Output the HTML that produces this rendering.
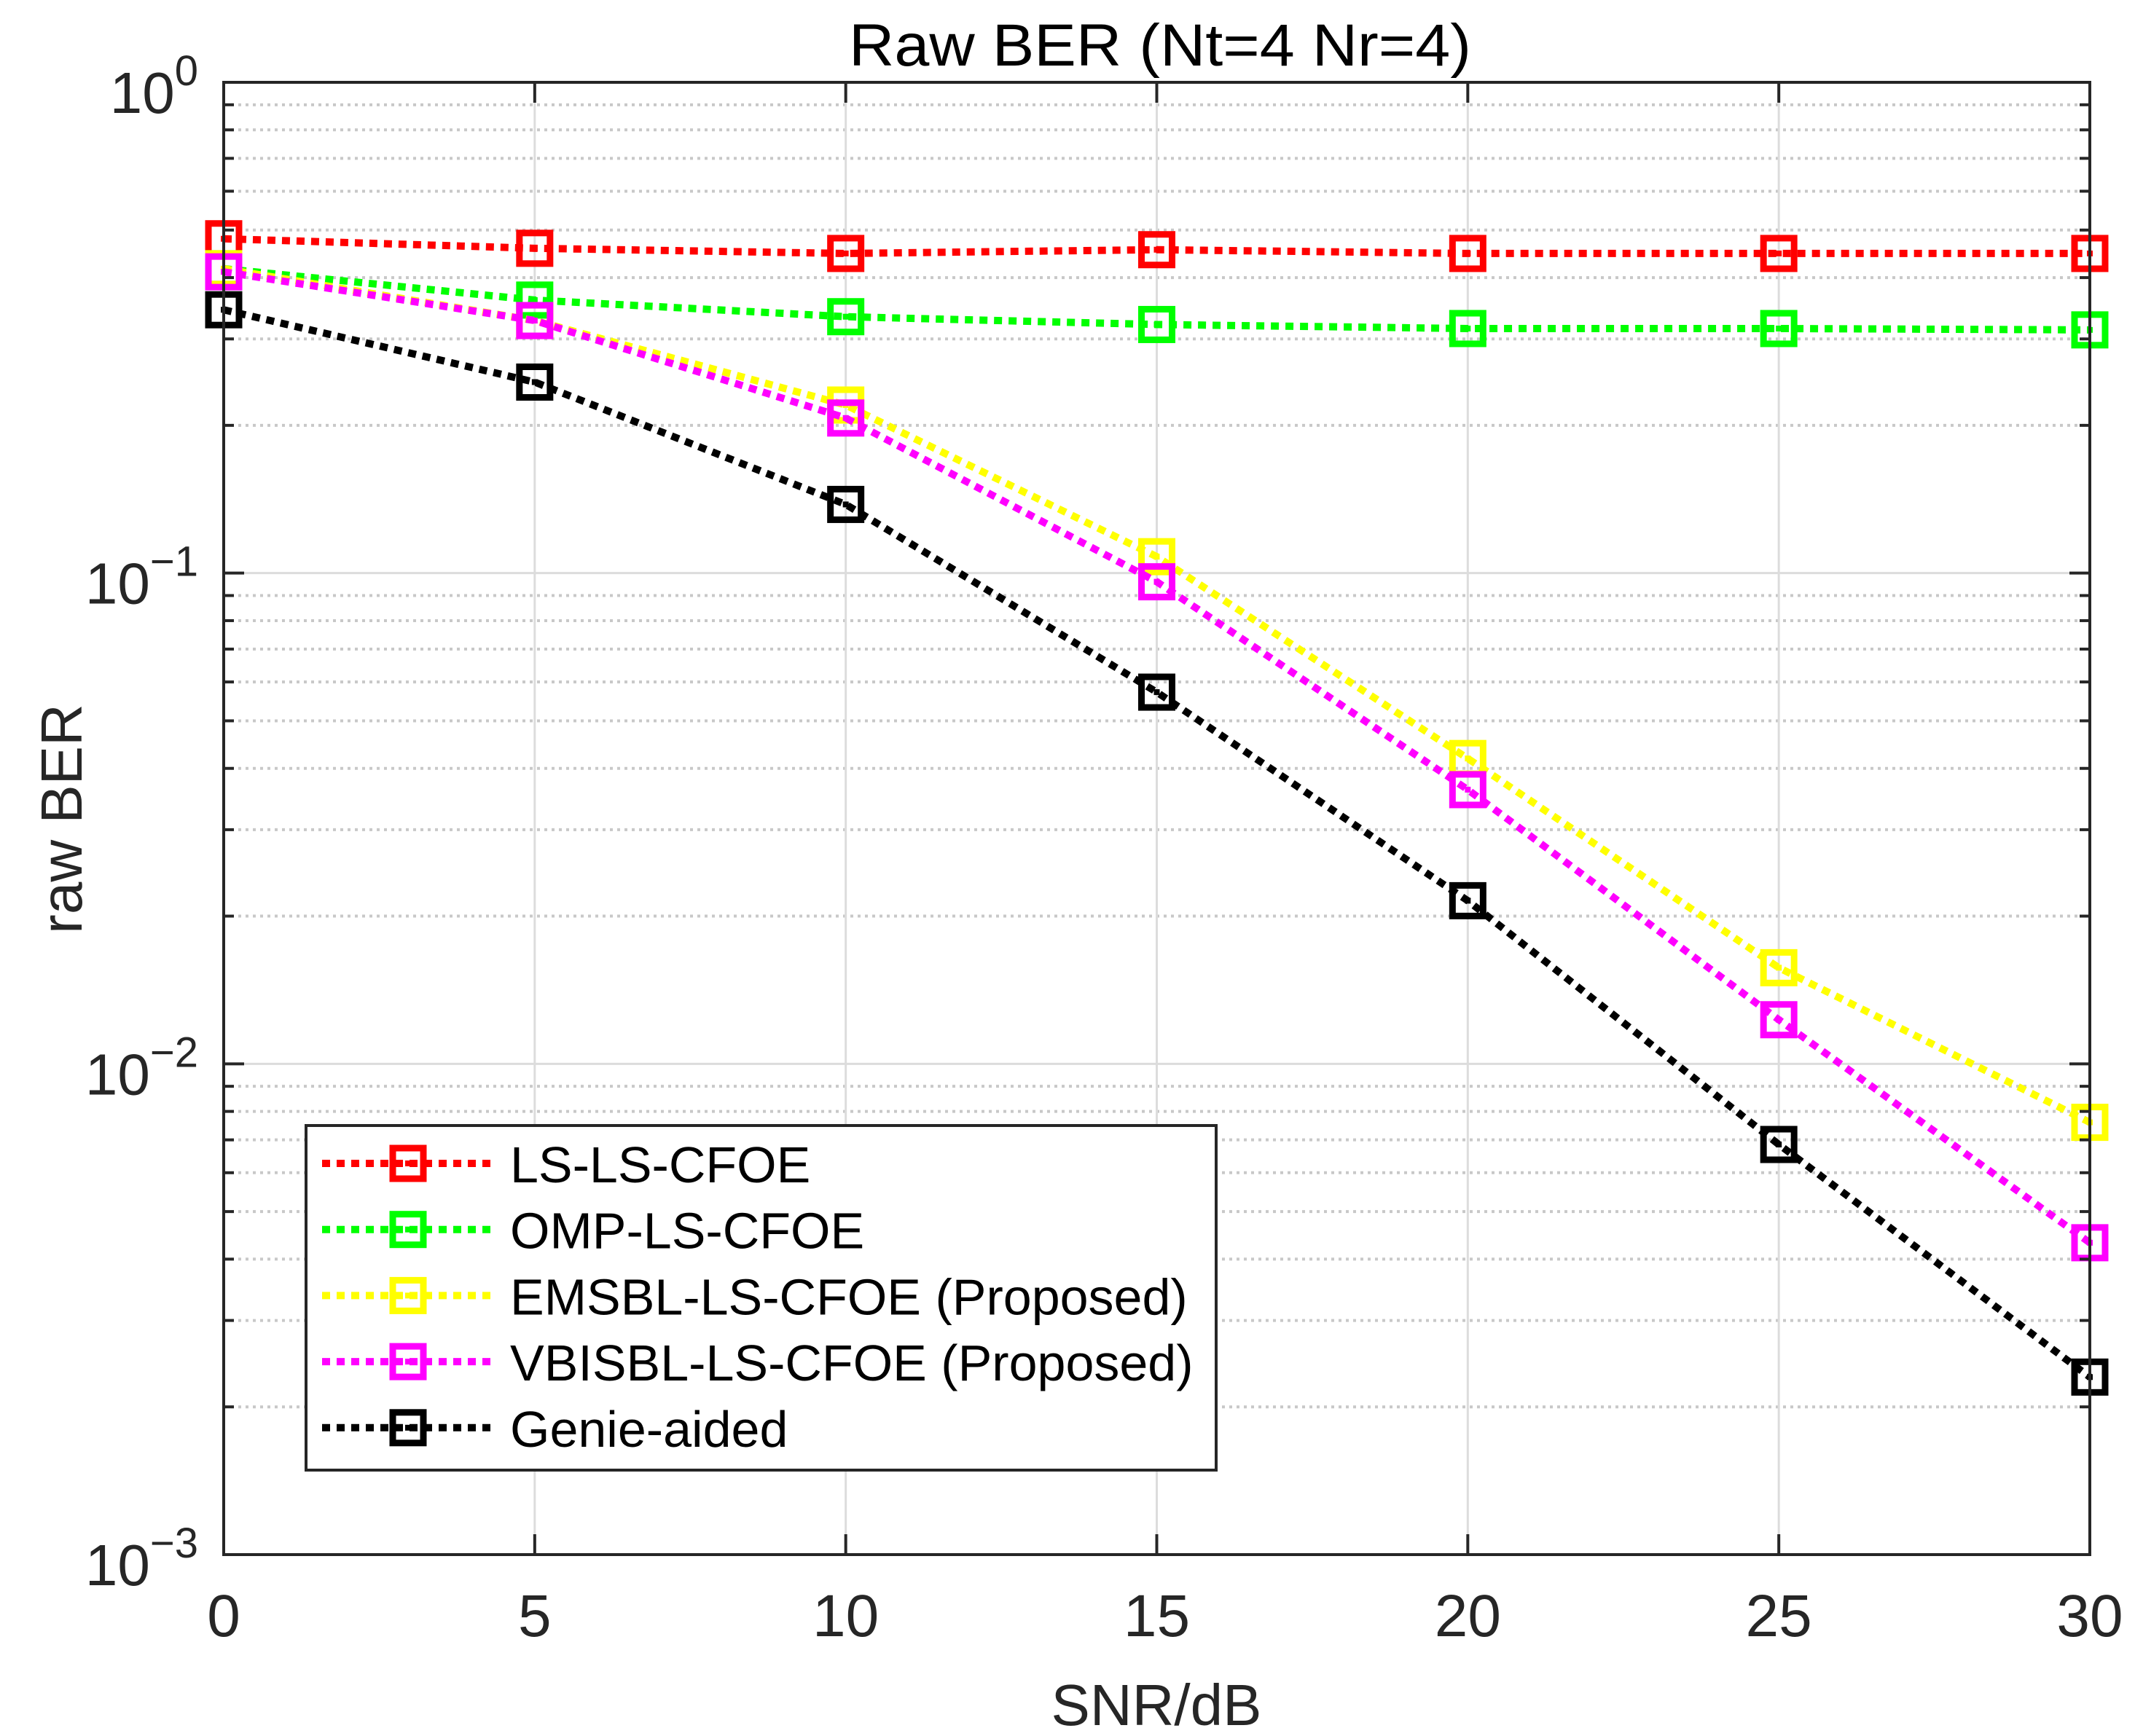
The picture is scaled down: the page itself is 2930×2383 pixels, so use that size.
<!DOCTYPE html>
<html><head><meta charset="utf-8"><style>
html,body{margin:0;padding:0;background:#fff;}
svg{display:block;font-family:"Liberation Sans",Arial,sans-serif;}
</style></head><body>
<svg id="chart" width="2930" height="2383" viewBox="0 0 2930 2383" xmlns="http://www.w3.org/2000/svg">
<rect x="0" y="0" width="2930" height="2383" fill="#fff"/>
<g id="grid"></g>
<g id="series"></g>
<g id="axes"></g>
<text x="1592" y="90" font-size="82" text-anchor="middle" fill="#000" textLength="854" lengthAdjust="spacingAndGlyphs">Raw BER (Nt=4 Nr=4)</text>
<text x="1587" y="2368" font-size="80" text-anchor="middle" fill="#262626">SNR/dB</text>
<text transform="translate(84,1124) rotate(-90)" x="0" y="28" font-size="80" text-anchor="middle" fill="#262626">raw BER</text>
<g id="legend"></g>
</svg>
<script>
const snr = [0, 5, 10, 15, 20, 25, 30];
const lsLs = [0.48, 0.459, 0.448, 0.456, 0.448, 0.448, 0.448];
const ompLs = [0.417, 0.36, 0.333, 0.321, 0.315, 0.315, 0.313];
const emsbl = [0.417, 0.327, 0.22, 0.108, 0.0419, 0.0157, 0.0076];
const vbisbl = [0.411, 0.327, 0.207, 0.096, 0.0362, 0.0123, 0.00432];
const genie = [0.344, 0.245, 0.138, 0.0572, 0.0215, 0.00685, 0.0023];
const seriesNames = ["LS-LS-CFOE", "OMP-LS-CFOE", "EMSBL-LS-CFOE (Proposed)", "VBISBL-LS-CFOE (Proposed)", "Genie-aided"];
const xTicks = [0, 5, 10, 15, 20, 25, 30];
const yExps = [0, -1, -2, -3];

const NS = "http://www.w3.org/2000/svg";
const L = 307, R = 2868, T = 113, B = 2134;
const xMin = 0, xMax = 30, eMax = 0, eMin = -3;
function xs(v){ return L + (v - xMin) / (xMax - xMin) * (R - L); }
function ys(v){ return T + (eMax - Math.log10(v)) / (eMax - eMin) * (B - T); }
function mk(tag, attrs, parent){ const e = document.createElementNS(NS, tag); for (const k in attrs) e.setAttribute(k, attrs[k]); parent.appendChild(e); return e; }

const grid = document.getElementById('grid');
const axes = document.getElementById('axes');
for (let e = eMin; e < eMax; e++) {
  for (let m = 2; m <= 9; m++) {
    const y = ys(m * Math.pow(10, e));
    const g = mk('line', {x1: L, x2: R, y1: y, y2: y, stroke: '#c8c8c8', 'stroke-width': 4, 'stroke-dasharray': '4 6'}, grid);
    
    
    const t1 = mk('line', {x1: L, x2: L + 14, y1: y, y2: y, stroke: '#262626', 'stroke-width': 4}, axes);
    
    
    const t2 = mk('line', {x1: R, x2: R - 14, y1: y, y2: y, stroke: '#262626', 'stroke-width': 4}, axes);
    
    
  }
}
yExps.forEach(e => {
  const y = ys(Math.pow(10, e));
  if (e !== eMax && e !== eMin) {
    const g = mk('line', {x1: L, x2: R, y1: y, y2: y, stroke: '#dcdcdc', 'stroke-width': 3}, grid);
    
    
  }
  const t1 = mk('line', {x1: L, x2: L + 28, y1: y, y2: y, stroke: '#262626', 'stroke-width': 4}, axes);
  
  
  const t2 = mk('line', {x1: R, x2: R - 28, y1: y, y2: y, stroke: '#262626', 'stroke-width': 4}, axes);
  
  
  const tx = mk('text', {x: 272, y: y + 42, 'font-size': 80, 'text-anchor': 'end', fill: '#262626'}, axes);
  
  
  const ts = mk('tspan', {}, tx); ts.textContent = '10';
  const sup = mk('tspan', {dy: -38, 'font-size': 58}, tx); sup.textContent = e === 0 ? '0' : '\u2212' + (-e);
});
xTicks.forEach(v => {
  const x = xs(v);
  if (v !== xMin && v !== xMax) {
    const g = mk('line', {x1: x, x2: x, y1: T, y2: B, stroke: '#dcdcdc', 'stroke-width': 3}, grid);
    
    
  }
  const t1 = mk('line', {x1: x, x2: x, y1: B, y2: B - 28, stroke: '#262626', 'stroke-width': 4}, axes);
  
  
  const t2 = mk('line', {x1: x, x2: x, y1: T, y2: T + 28, stroke: '#262626', 'stroke-width': 4}, axes);
  
  
  const tx = mk('text', {x: x, y: 2246, 'font-size': 82, 'text-anchor': 'middle', fill: '#262626'}, axes);
  
  
  tx.textContent = String(v);
});
const box = mk('rect', {x: L, y: T, width: R - L, height: B - T, fill: 'none', stroke: '#262626', 'stroke-width': 4}, axes);



const seriesData = [lsLs, ompLs, emsbl, vbisbl, genie];
const colors = ['#ff0000', '#00ff00', '#ffff00', '#ff00ff', '#000000'];
const sg = document.getElementById('series');
function marker(parent, x, y, c){
  const r = mk('rect', {x: x - 21, y: y - 21, width: 42, height: 42, fill: 'none', stroke: c, 'stroke-width': 9}, parent);
  
  
  const d = mk('rect', {x: x - 4, y: y - 4, width: 8, height: 8, fill: c}, parent);
  
  
}
seriesData.forEach((arr, i) => {
  const g = mk('g', {}, sg);
  
  
  const pts = arr.map((v, j) => xs(snr[j]) + ',' + ys(v)).join(' ');
  const pl = mk('polyline', {points: pts, fill: 'none', stroke: colors[i], 'stroke-width': 10, 'stroke-dasharray': '11 9'}, g);
  
  
  arr.forEach((v, j) => marker(g, xs(snr[j]), ys(v), colors[i]));
});

const lg = document.getElementById('legend');
const lb = mk('rect', {x: 420, y: 1545, width: 1249, height: 473, fill: '#fff', stroke: '#262626', 'stroke-width': 4}, lg);


seriesNames.forEach((n, i) => {
  const y = 1597 + i * 90.7;
  const g = mk('g', {}, lg);
  
  
  const ln = mk('line', {x1: 442, x2: 678, y1: y, y2: y, stroke: colors[i], 'stroke-width': 10, 'stroke-dasharray': '11 9'}, g);
  
  
  marker(g, 560, y, colors[i]);
  const t = mk('text', {x: 700, y: y + 26, 'font-size': 70, fill: '#000'}, g);
  
  
  t.textContent = n;
});
</script>
</body></html>
